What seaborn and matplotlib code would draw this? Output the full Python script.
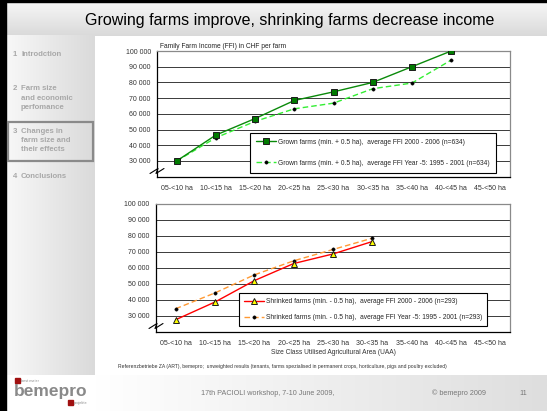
import numpy as np
import pandas as pd
import matplotlib
matplotlib.use("Agg")
import matplotlib.pyplot as plt
import seaborn as sns
from matplotlib.patches import Rectangle
from matplotlib.lines import Line2D
from matplotlib.colors import to_rgb

# ---------------- data ----------------
categories = ["05-<10 ha", "10-<15 ha", "15-<20 ha", "20-<25 ha", "25-<30 ha",
              "30-<35 ha", "35-<40 ha", "40-<45 ha", "45-<50 ha"]
grown_2000_2006 = [30000, 46500, 57000, 68500, 74000, 80000, 90000, 100000]
grown_1995_2001 = [30000, 44800, 55200, 63200, 66800, 76000, 79600, 94200]
shrinked_2000_2006 = [27500, 38600, 52000, 62700, 68700, 76500]
shrinked_1995_2001 = [34400, 44300, 55600, 64400, 71500, 78600]
y_ticks = [30000, 40000, 50000, 60000, 70000, 80000, 90000, 100000]

lbl_g1 = "Grown farms (min. + 0.5 ha),  average FFI 2000 - 2006 (n=634)"
lbl_g2 = "Grown farms (min. + 0.5 ha),  average FFI Year -5: 1995 - 2001 (n=634)"
lbl_s1 = "Shrinked farms (min. - 0.5 ha),  average FFI 2000 - 2006 (n=293)"
lbl_s2 = "Shrinked farms (min. - 0.5 ha),  average FFI Year -5: 1995 - 2001 (n=293)"

sidebar_items = [("1", ["Introdction"]),
                 ("2", ["Farm size", "and economic", "perfomance"]),
                 ("3", ["Changes in", "farm size and", "their effects"]),
                 ("4", ["Conclusions"])]

sns.set_style("white")
plt.rcParams['font.family'] = ['Liberation Sans', 'DejaVu Sans']

W, H = 547, 411
fig = plt.figure(figsize=(W / 100, H / 100), dpi=100)

# ---------------- slide background ----------------
bg = fig.add_axes([0, 0, 1, 1], zorder=0)
bg.axis('off')


def grad(ax, x0, x1, y0, y1, c0, c1, horizontal=True):
    t = np.linspace(0, 1, 256)
    a = np.array(to_rgb(c0)); b = np.array(to_rgb(c1))
    cols = a[None, :] * (1 - t[:, None]) + b[None, :] * t[:, None]
    img = cols[None, :, :] if horizontal else cols[:, None, :]
    ax.imshow(img, extent=(x0, x1, y1, y0), aspect='auto', interpolation='bilinear')


grad(bg, 6, W, 3, 36, "#f6f6f6", "#d9d9d9", horizontal=False)
grad(bg, 6, 95, 36, 375, "#f8f8f8", "#dadada", horizontal=True)
grad(bg, 95, W, 375, H, "#ffffff", "#dedede", horizontal=True)
bg.add_patch(Rectangle((0, 0), 6, H, color="black"))
bg.add_patch(Rectangle((0, 0), W, 2.5, color="black"))
bg.set_xlim(0, W)
bg.set_ylim(H, 0)

bg.text(290, 20, "Growing farms improve, shrinking farms decrease income",
        fontsize=11.5, ha='center', va='center', color='black')

# sidebar
bg.add_patch(Rectangle((7.5, 122), 85, 39, facecolor='none', edgecolor='#8a8a8a', lw=1.6))
ys = {"1": 54, "2": 89, "3": 131, "4": 176}
for num, lines in sidebar_items:
    y0 = ys[num]
    bg.text(13, y0, num, fontsize=5.6, fontweight='bold', color='#a8a8a8', va='center')
    for i, ln in enumerate(lines):
        bg.text(21, y0 + i * 9, ln, fontsize=5.6, fontweight='bold', color='#a8a8a8', va='center')

# footer
bg.text(268, 393, "17th PACIOLI workshop, 7-10 June 2009,", fontsize=5.2, color='#777777',
        ha='center', va='center')
bg.text(459, 393, "\u00a9 bemepro 2009", fontsize=5.2, color='#777777', ha='center', va='center')
bg.text(523, 393, "11", fontsize=5.2, color='#777777', ha='center', va='center')
bg.add_patch(Rectangle((15, 378), 4.5, 5, color='#a01010'))
bg.add_patch(Rectangle((68, 400), 4.5, 5, color='#a01010'))
bg.text(21, 380.5, "best meier", fontsize=2.8, color='#888888', va='center')
bg.text(74, 402.5, "projekte", fontsize=2.8, color='#888888', va='center')
bg.text(14, 391.5, "bemepro", fontsize=12.5, color='#8a8a8a', va='center', fontweight='bold')

# texts around bottom chart
bg.text(333, 352, "Size Class Utilised Agricultural Area (UAA)", fontsize=4.8,
        color='#333333', ha='center', va='center')
bg.text(118, 366.5, "Referenzbetriebe ZA (ART), bemepro;  unweighted results (tenants, farms spezialised "
        "in permanent crops, horticulture, pigs and poultry excluded)", fontsize=3.6,
        color='#333333', ha='left', va='center')
bg.text(160, 46, "Family Farm Income (FFI) in CHF per farm", fontsize=4.8,
        color='#222222', ha='left', va='center')


# ---------------- charts ----------------
def style_axis(ax):
    ax.set_xlim(-0.5, len(categories) - 0.5)
    ax.set_ylim(20000, 100000)
    ax.set_yticks(y_ticks)
    ax.set_yticklabels([f"{v:,}".replace(",", " ") for v in y_ticks])
    ax.set_xticks(range(len(categories)))
    ax.set_xticklabels(categories)
    ax.set_xticks(np.arange(-0.5, len(categories)), minor=True)
    ax.tick_params(axis='x', which='major', length=0, labelsize=5, pad=6, colors='#333333')
    ax.tick_params(axis='x', which='minor', length=3, width=0.7, direction='out', color='black')
    ax.tick_params(axis='y', which='major', length=5, width=0.7, direction='inout',
                   labelsize=5, pad=2, colors='#333333')
    ax.tick_params(axis='y', colors='black', labelcolor='#333333')
    ax.set_xlabel("")
    ax.set_ylabel("")
    ax.yaxis.grid(True, color='#3a3a3a', lw=0.7)
    ax.set_axisbelow(True)
    for s in ['left', 'bottom']:
        ax.spines[s].set_color('black'); ax.spines[s].set_linewidth(0.9)
    for s in ['top', 'right']:
        ax.spines[s].set_visible(True)
        ax.spines[s].set_color('#8a8a8a'); ax.spines[s].set_linewidth(0.9)
    ax.set_facecolor('none')


# top chart
ax1 = fig.add_axes([157 / W, 1 - 176.7 / H, (510 - 157) / W, (176.7 - 51) / H], zorder=2)
x_g = list(range(len(grown_2000_2006)))
sns.lineplot(x=x_g, y=grown_2000_2006, ax=ax1, color='#0a8a0a', lw=1.0, marker='s',
             markersize=4.6, markerfacecolor='#007a00', markeredgecolor='#1a1a1a',
             markeredgewidth=0.7, label=lbl_g1, zorder=4)
sns.lineplot(x=x_g, y=grown_1995_2001, ax=ax1, color='#33ee33', lw=1.0, linestyle=(0, (4, 2.2)),
             marker='o', markersize=2.4, markerfacecolor='black', markeredgecolor='black',
             markeredgewidth=0.3, label=lbl_g2, zorder=3)
style_axis(ax1)
leg1 = ax1.legend(loc='upper left', bbox_to_anchor=((250 - 157) / 353, (176.7 - 132.7) / 125.7),
                  borderaxespad=0, fontsize=4.8, frameon=True, fancybox=False,
                  edgecolor='black', framealpha=1, labelspacing=2.1, borderpad=0.9,
                  handlelength=3.0, handletextpad=0.3)
leg1.get_frame().set_linewidth(0.8)

# bottom chart
ax2 = fig.add_axes([156 / W, 1 - 331.7 / H, (510 - 156) / W, (331.7 - 204) / H], zorder=2)
x_s = list(range(len(shrinked_2000_2006)))
sns.lineplot(x=x_s, y=shrinked_2000_2006, ax=ax2, color='#ff0000', lw=1.0, marker='^',
             markersize=5, markerfacecolor='#ffff00', markeredgecolor='#1a1a1a',
             markeredgewidth=0.7, label=lbl_s1, zorder=4)
sns.lineplot(x=x_s, y=shrinked_1995_2001, ax=ax2, color='#ff9933', lw=1.0, linestyle=(0, (4, 2.2)),
             marker='o', markersize=2.4, markerfacecolor='black', markeredgecolor='black',
             markeredgewidth=0.3, label=lbl_s2, zorder=3)
style_axis(ax2)
leg2 = ax2.legend(loc='upper left', bbox_to_anchor=((239 - 156) / 354, (331.7 - 293) / 127.7),
                  borderaxespad=0, fontsize=4.8, frameon=True, fancybox=False,
                  edgecolor='black', framealpha=1, labelspacing=1.35, borderpad=0.75,
                  handlelength=3.0, handletextpad=0.3)
leg2.get_frame().set_linewidth(0.8)

# axis break marks
for cx, cy in [(157, 171), (156, 326)]:
    pts = np.array([(-7, 2.5), (1, -2.5), (-1, 2.5), (7, -2.5)], dtype=float)
    xs = (cx + pts[:, 0]) / W
    ysb = 1 - (cy + pts[:, 1]) / H
    fig.add_artist(Line2D(xs, ysb, transform=fig.transFigure, color='black', lw=0.8, zorder=10))

fig.savefig("out.png", dpi=100)
